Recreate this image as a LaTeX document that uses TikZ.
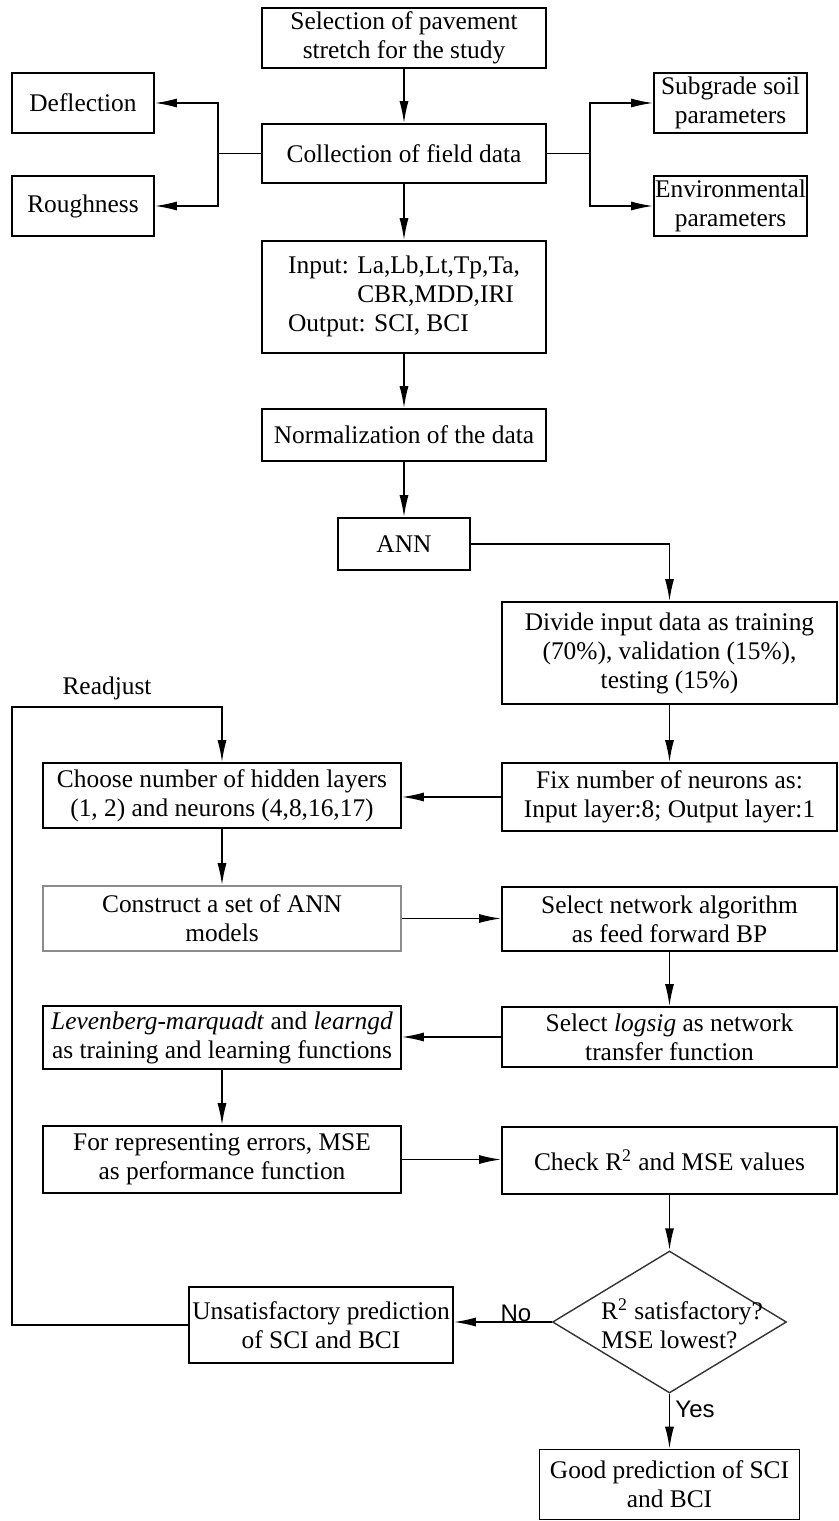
\documentclass[tikz,border=0pt]{standalone}
\usepackage{fontspec}
\setmainfont{Liberation Serif}
\newfontfamily\labelsans{Liberation Sans}
\usetikzlibrary{arrows.meta,shapes.geometric,calc}
\newcommand\fsz{\fontsize{12.7}{14.5}\selectfont}
\tikzset{
  box/.style={draw, line width=0.8pt, inner xsep=0pt, inner ysep=0pt, align=center, font=\fsz},
  wh/.style 2 args={minimum width=#1*0.5pt, minimum height=#2*0.5pt},
  decision/.style={draw=black!80, diamond, line width=0.7pt, inner sep=0pt, minimum width=117pt, minimum height=71pt},
  link/.style={line width=0.8pt},
  arr/.style={line width=0.8pt, -{Latex[length=11pt,width=4.5pt]}},
  tag/.style={font=\labelsans\fontsize{12}{14}\selectfont, inner sep=1pt},
}
\begin{document}
\begin{tikzpicture}[x=0.5pt, y=-0.5pt]
\useasboundingbox (0,0) rectangle (839,1521);
\fill[white] (0,0) rectangle (839,1521);

% data collection stage
\node[box,wh={284}{60}]  (sel)   at (404,38)    {Selection of pavement\\stretch for the study};
\node[box,wh={284}{59}]  (coll)  at (404,153.5) {Collection of field data};
\node[box,wh={142}{60}]  (defl)  at (83,103)    {Deflection};
\node[box,wh={142}{60}]  (rough) at (83,206)    {Roughness};
\node[box,wh={153}{60}]  (subg)  at (730.5,103) {Subgrade soil\\parameters};
\node[box,wh={153}{60}]  (env)   at (730.5,206) {Environmental\\parameters};
\node[box,wh={284}{112}] (inp)   at (404,297)
  {\begin{tabular}{@{}l@{}}Input: La,Lb,Lt,Tp,Ta,\\\phantom{Input: }CBR,MDD,IRI\\Output: SCI, BCI\end{tabular}};
\node[box,wh={284}{52}]  (norm)  at (404,435)   {Normalization of the data};
\node[box,wh={132}{52}]  (ann)   at (404,544)   {ANN};

% network set-up and training
\node[box,wh={335}{102}] (div)    at (669.5,653)    {Divide input data as training\\(70\%), validation (15\%),\\testing (15\%)};
\node[box,wh={358}{65}]  (choose) at (222,795.5)    {Choose number of hidden layers\\(1, 2) and neurons (4,8,16,17)};
\node[box,wh={335}{68}]  (fix)    at (669.5,797)    {Fix number of neurons as:\\Input layer:8; Output layer:1};
\node[box,draw=black!45,wh={358}{65}] (cons) at (222,918.5) {Construct a set of ANN\\models};
\node[box,wh={335}{64}]  (selnet) at (669.5,919)    {Select network algorithm\\as feed forward BP};
\node[box,wh={358}{63}]  (lev)    at (222,1037.5)   {\textit{Levenberg-marquadt} and \textit{learngd}\\as training and learning functions};
\node[box,wh={335}{60}]  (logsig) at (669.5,1037)   {Select \textit{logsig} as network\\transfer function};
\node[box,wh={358}{67}]  (forrep) at (222,1159.5)   {For representing errors, MSE\\as performance function};
\node[box,wh={335}{67}]  (check)  at (669.5,1160.5) {Check R\textsuperscript{2} and MSE values};

% decision and outcomes
\node[decision] (dec) at (669.5,1322) {};
\node[font=\fsz, align=left, inner sep=0pt] (dect) at (682,1324) {R\textsuperscript{2} satisfactory?\\MSE lowest?};
\node[box,wh={264}{76}] (unsat) at (321,1325)    {Unsatisfactory prediction\\of SCI and BCI};
\node[box,wh={260}{70}] (good)  at (669.5,1484.5) {Good prediction of SCI\\and BCI};

% labels
\node[font=\fsz, inner sep=0pt] (readj) at (107,688) {Readjust};
\node[tag] (no)  at (516,1313) {No};
\node[tag] (yes) at (695,1409) {Yes};

% connectors
\coordinate (lj) at (218,153.5);
\coordinate (rj) at (590,153.5);
\coordinate (lt) at (12,707);

\draw[arr] (sel) -- (coll);
\draw[link] (coll.west) -- (lj);
\draw[arr] (lj) |- (defl.east);
\draw[arr] (lj) |- (rough.east);
\draw[link] (coll.east) -- (rj);
\draw[arr] (rj) |- (subg.west);
\draw[arr] (rj) |- (env.west);
\draw[arr] (coll) -- (inp);
\draw[arr] (inp) -- (norm);
\draw[arr] (norm) -- (ann);
\draw[arr] (ann.east) -| (div.north);
\draw[arr] (div) -- (fix);
\draw[arr] (fix.west) -- (fix.west -| choose.east);
\draw[arr] (choose) -- (cons);
\draw[arr] (cons.east) -- (cons.east -| selnet.west);
\draw[arr] (selnet) -- (logsig);
\draw[arr] (logsig.west) -- (logsig.west -| lev.east);
\draw[arr] (lev) -- (forrep);
\draw[arr] (forrep.east) -- (forrep.east -| check.west);
\draw[arr] (check.south) -- (dec.north);
\draw[arr] (dec.west) -- (dec.west -| unsat.east);
\draw[arr] (dec.south) -- (good.north);
\draw[arr] (unsat.west) -| (lt) -| (choose.north);
\end{tikzpicture}
\end{document}
